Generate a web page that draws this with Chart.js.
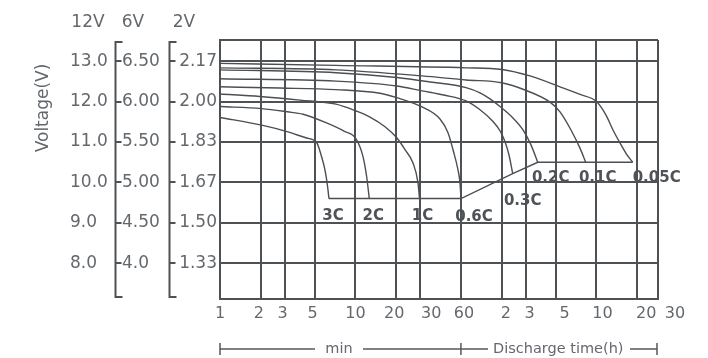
<!DOCTYPE html>
<html>
<head>
<meta charset="utf-8">
<script src="https://cdn.jsdelivr.net/npm/chart.js@4/dist/chart.umd.min.js"></script>
<style>
html,body{margin:0;padding:0;background:#fff}
#wrap{width:708px;height:358px}
</style>
</head>
<body>
<div id="wrap"><canvas id="c" width="708" height="358"></canvas></div>
<script>
// discharge curves: time in minutes, voltage for a 12V battery
const rates = ['3C', '2C', '1C', '0.6C', '0.3C', '0.2C', '0.1C', '0.05C'];

const time3C = [1, 2.03, 3.12, 4.36, 5.17, 5.57, 5.95, 6.2, 6.37];
const volt3C = [11.61, 11.42, 11.26, 11.10, 10.99, 10.68, 10.31, 9.94, 9.60];

const time2C = [1, 2.03, 3.14, 4.10, 6.06, 8.23, 10.09, 11.36, 12.09, 12.64];
const volt2C = [11.88, 11.83, 11.75, 11.69, 11.48, 11.27, 11.08, 10.64, 10.14, 9.60];

const time1C = [1, 1.97, 3.89, 7.18, 10.09, 12.79, 16.51, 20.24, 23.2, 26.57, 28.93, 29.68];
const volt1C = [12.19, 12.13, 12.04, 11.94, 11.77, 11.62, 11.38, 11.10, 10.81, 10.48, 9.99, 9.60];

const time06C = [1, 2.77, 7.18, 15.17, 20.24, 30.97, 42.03, 48.16, 52.43, 57.08, 59.05, 60.07];
const volt06C = [12.37, 12.34, 12.30, 12.21, 12.10, 11.87, 11.57, 11.23, 10.81, 10.31, 9.99, 9.60];

const time03C = [1, 7.18, 20.24, 30.97, 45.8, 65.4, 82.96, 103.5, 116.5, 126.9, 135.8, 144.6];
const volt03C = [12.57, 12.51, 12.39, 12.27, 12.16, 12.02, 11.80, 11.51, 11.28, 11.01, 10.68, 10.22];

const time02C = [1, 7.18, 20.24, 35.5, 65.4, 82.96, 98.3, 116.5, 142.9, 172.3, 197.3, 221.2];
const volt02C = [12.79, 12.72, 12.60, 12.49, 12.35, 12.22, 12.07, 11.88, 11.62, 11.30, 10.93, 10.50];

const time01C = [1, 7.18, 30.97, 65.4, 120, 178.2, 272.5, 323, 389.4, 453.8, 500];
const volt01C = [12.84, 12.79, 12.64, 12.54, 12.47, 12.29, 11.99, 11.75, 11.30, 10.85, 10.50];

const time005C = [1, 7.18, 65.4, 120, 194, 323, 454, 602.7, 706, 795, 895, 1009, 1111];
const volt005C = [12.95, 12.90, 12.84, 12.80, 12.64, 12.37, 12.18, 12.00, 11.67, 11.30, 10.98, 10.68, 10.50];

// axes
const timeTicks = [1, 2, 3, 5, 10, 20, 30, 60, 120, 180, 300, 600, 1200];
const timeLabels = ['1', '2', '3', '5', '10', '20', '30', '60', '2', '3', '5', '10', '20'];
const voltTicks = [8, 9, 10, 11, 12, 13];
const labels12V = ['8.0', '9.0', '10.0', '11.0', '12.0', '13.0'];
const labels6V = ['4.0', '4.50', '5.00', '5.50', '6.00', '6.50'];
const labels2V = ['1.33', '1.50', '1.67', '1.83', '2.00', '2.17'];

const X_MIN = 1, X_MAX = 1708;
const Y_MIN = 7.11, Y_MAX = 13.53;

const GRID = '#4f5255';
const TEXT = '#64686d';
const FONT = 'DejaVu Sans';

const pts = (ts, vs) => ts.map((t, i) => ({x: t, y: vs[i]}));
const curves = [
  pts(time3C, volt3C), pts(time2C, volt2C), pts(time1C, volt1C), pts(time06C, volt06C),
  pts(time03C, volt03C), pts(time02C, volt02C), pts(time01C, volt01C), pts(time005C, volt005C)
];
const cutoff = curves.map(c => c[c.length - 1]);

const datasets = curves.map((c, i) => ({
  label: rates[i], data: c, borderColor: '#4b4e52', borderWidth: 1.4,
  pointRadius: 0, showLine: true, cubicInterpolationMode: 'monotone', fill: false
}));
datasets.push({
  label: 'cutoff', data: cutoff, borderColor: '#4b4e52', borderWidth: 1.4,
  pointRadius: 0, showLine: true, tension: 0, fill: false
});

const withEnds = () => [Y_MIN, ...voltTicks, Y_MAX].map(v => ({value: v}));
const pick = list => (v, i) => (i > 0 && i <= list.length) ? list[i - 1] : '';

// label nudges in pixels (the printed labels are hand placed)
const labelShift = [[4, 18], [4, 18], [3, 18], [13, 19], [10, 28], [13, 16], [12, 16], [24, 16]];
const tickShift = [0, -2, -2, -2, 0, -2, 11, 3, 4, 4, 9, 6, 9];

const decor = {
  id: 'decor',
  afterDraw(chart) {
    const {ctx, chartArea: a, scales} = chart;
    const x = scales.x, y = scales.y, y6 = scales.y6, y12 = scales.y12;
    ctx.save();

    // brackets for the 6V and 2V columns
    ctx.strokeStyle = GRID;
    ctx.lineWidth = 2;
    [y6.left - 6.5, y.left + 0.5].forEach(bx => {
      const top = a.top + 2, bot = a.bottom - 2;
      ctx.beginPath();
      ctx.moveTo(bx + 7, top); ctx.lineTo(bx, top); ctx.lineTo(bx, bot); ctx.lineTo(bx + 7, bot);
      voltTicks.forEach(v => {
        const py = Math.round(y.getPixelForValue(v));
        ctx.moveTo(bx, py); ctx.lineTo(bx + 6, py);
      });
      ctx.stroke();
    });

    ctx.fillStyle = TEXT;
    ctx.font = '17px "' + FONT + '"';
    ctx.textBaseline = 'middle';
    ctx.textAlign = 'center';
    ctx.fillText('12V', y12.left + 18, 23);
    ctx.fillText('6V', y6.left + 11, 23);
    ctx.fillText('2V', y.left + 15, 23);

    ctx.save();
    ctx.translate(44, 108);
    ctx.rotate(-Math.PI / 2);
    ctx.fillText('Voltage(V)', 0, 0);
    ctx.restore();

    // time labels under the grid
    ctx.font = '16px "' + FONT + '"';
    const ly = a.bottom + 15;
    timeTicks.forEach((v, i) => {
      ctx.fillText(timeLabels[i], x.getPixelForValue(v) + tickShift[i], ly);
    });
    ctx.fillText('30', x.right + 17, ly);

    // bottom unit ruler
    const by = 349;
    const x0 = x.getPixelForValue(1), xh = x.getPixelForValue(60), x1 = x.right - 1;
    ctx.lineWidth = 1.5;
    ctx.strokeStyle = '#55585c';
    ctx.beginPath();
    ctx.moveTo(x0, by - 6); ctx.lineTo(x0, by + 6);
    ctx.moveTo(xh, by - 6); ctx.lineTo(xh, by + 6);
    ctx.moveTo(x1, by - 6); ctx.lineTo(x1, by + 6);
    ctx.moveTo(x0, by); ctx.lineTo(315, by);
    ctx.moveTo(363, by); ctx.lineTo(488, by);
    ctx.moveTo(630, by); ctx.lineTo(x1, by);
    ctx.stroke();
    ctx.font = '14.5px "' + FONT + '"';
    ctx.fillText('min', 339, by);
    ctx.textAlign = 'left';
    ctx.fillText('Discharge time(h)', 493, by);

    // rate labels next to curve ends
    ctx.font = 'bold 15px "' + FONT + '"';
    ctx.fillStyle = '#4f5256';
    ctx.textAlign = 'center';
    cutoff.forEach((p, i) => {
      const px = x.getPixelForValue(p.x), py = y.getPixelForValue(p.y);
      ctx.fillText(rates[i], px + labelShift[i][0], py + labelShift[i][1]);
    });
    ctx.restore();
  }
};

new Chart(document.getElementById('c'), {
  type: 'scatter',
  data: {datasets},
  plugins: [decor],
  options: {
    responsive: false,
    animation: false,
    devicePixelRatio: 1,
    layout: {padding: {left: 70, top: 40, right: 50, bottom: 0}},
    plugins: {legend: {display: false}, tooltip: {enabled: false}},
    scales: {
      x: {
        type: 'logarithmic', min: X_MIN, max: X_MAX,
        afterBuildTicks: s => { s.ticks = [...timeTicks, X_MAX].map(v => ({value: v})); },
        afterFit: s => { s.height = 59; },
        ticks: {display: false},
        grid: {color: GRID, lineWidth: 2, drawTicks: false},
        border: {display: true, color: GRID, width: 2}
      },
      y: {
        type: 'linear', position: 'left', weight: 0, min: Y_MIN, max: Y_MAX,
        afterBuildTicks: s => { s.ticks = withEnds(); },
        afterFit: s => { s.width = 51; },
        ticks: {autoSkip: false, padding: 3, color: TEXT, font: {family: FONT, size: 17}, callback: pick(labels2V)},
        grid: {color: GRID, lineWidth: 2, drawTicks: false},
        border: {display: true, color: GRID, width: 2}
      },
      y6: {
        type: 'linear', position: 'left', weight: 1, min: Y_MIN, max: Y_MAX,
        afterBuildTicks: s => { s.ticks = withEnds(); },
        afterFit: s => { s.width = 47; },
        ticks: {autoSkip: false, crossAlign: 'far', color: TEXT, font: {family: FONT, size: 17}, callback: pick(labels6V)},
        grid: {display: false, drawTicks: false},
        border: {display: false}
      },
      y12: {
        type: 'linear', position: 'left', weight: 2, min: Y_MIN, max: Y_MAX,
        afterBuildTicks: s => { s.ticks = withEnds(); },
        afterFit: s => { s.width = 52; },
        ticks: {autoSkip: false, crossAlign: 'far', color: TEXT, font: {family: FONT, size: 17}, callback: pick(labels12V)},
        grid: {display: false, drawTicks: false},
        border: {display: false}
      }
    }
  }
});
</script>
</body>
</html>
